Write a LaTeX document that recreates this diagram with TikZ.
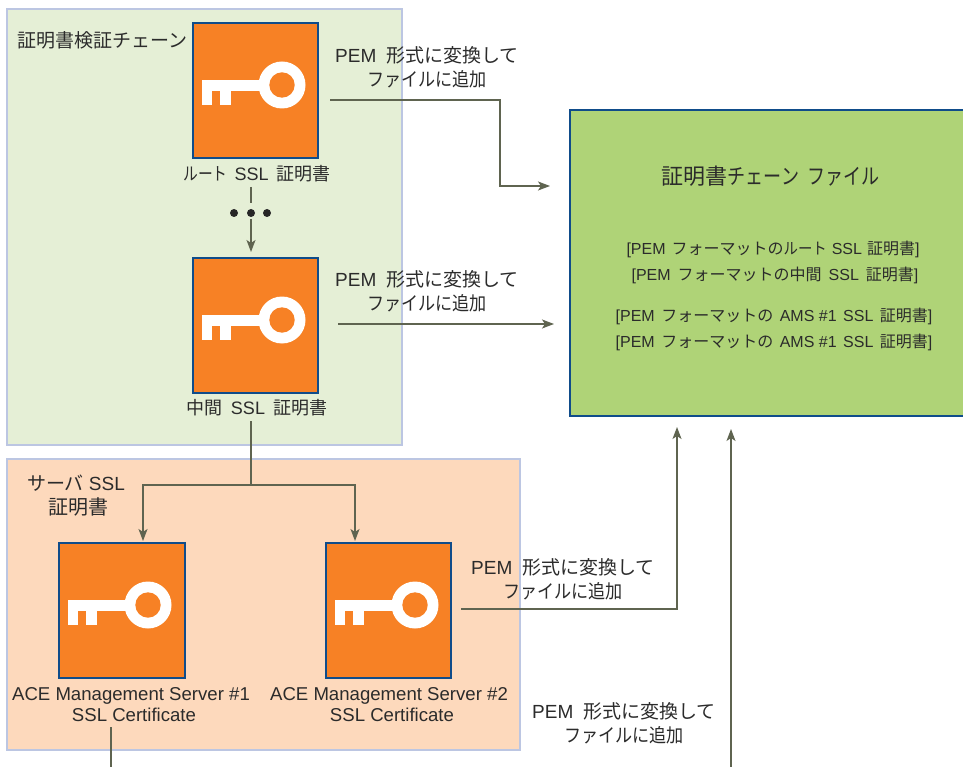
\documentclass[tikz,border=0pt]{standalone}
\usepackage{fontspec}
\setmainfont{Liberation Sans}
\newfontfamily\jp{Noto Sans CJK JP}
\newfontfamily\jpn{Noto Sans CJK JP}[FakeStretch=0.9]
\newfontfamily\jpk{Noto Sans CJK JP}[FakeStretch=0.82]
\newcommand{\J}[1]{{\jp #1}}
\newcommand{\JN}[1]{{\jpn #1}}
\newcommand{\JK}[1]{{\jpk #1}}
\usetikzlibrary{arrows.meta}
\definecolor{panelgreen}{HTML}{E5EFD6}
\definecolor{panelpeach}{HTML}{FDD9BC}
\definecolor{panelborder}{HTML}{BCC6E2}
\definecolor{filegreen}{HTML}{AFD377}
\definecolor{keyorange}{HTML}{F78125}
\definecolor{boxblue}{HTML}{0F4C8A}
\definecolor{conn}{HTML}{5F6450}
\definecolor{txt}{HTML}{2B2B2B}
\tikzset{
  x=1pt,y=-1pt,
  panel/.style={draw=panelborder,line width=1.6pt,outer sep=0pt,inner sep=0pt,anchor=north west},
  keybox/.style={draw=boxblue,fill=keyorange,line width=1.6pt,outer sep=0pt,inner sep=0pt,anchor=north west,minimum width=125pt,minimum height=135pt},
  filebox/.style={draw=boxblue,fill=filegreen,line width=1.6pt,outer sep=0pt,inner sep=0pt,anchor=north west},
  lbl/.style={text=txt,align=center,inner sep=0pt,font=\fontsize{19}{24}\selectfont},
  small/.style={text=txt,align=center,inner sep=0pt,font=\fontsize{18}{21}\selectfont},
  ace/.style={text=txt,align=center,inner sep=0pt,font=\fontsize{18.6}{21}\selectfont},
  filetxt/.style={text=txt,align=center,inner sep=0pt,font=\fontsize{16}{16}\selectfont},
  conn/.style={draw=conn,line width=1.4pt},
  arr/.style={conn,-{Stealth[length=12pt,width=9pt,inset=3pt]}},
}
% #1 = left x, #2 = top y of the key box
\newcommand{\keyicon}[2]{%
  \begin{scope}[shift={(#1,#2)}]
    \fill[white] (9,57) rectangle (70,68);
    \fill[white] (9,57) rectangle (19,82);
    \fill[white] (27,57) rectangle (38,82);
    \fill[white] (89,62) circle (23.5);
    \fill[keyorange] (89,62) circle (12.7);
  \end{scope}}
\newcommand{\conv}{PEM\hspace{10pt}\J{形式に変換して}\\\JN{ファイルに追加}}
\begin{document}
\begin{tikzpicture}
\useasboundingbox (0,0) rectangle (963,767);
\fill[white] (0,0) rectangle (963,767);
% panels
\node[panel,fill=panelgreen,minimum width=395pt,minimum height=436pt] (chain) at (7,9) {};
\node[panel,fill=panelpeach,minimum width=513pt,minimum height=291pt] (server) at (7,459) {};
\node[filebox,minimum width=400pt,minimum height=306pt] (file) at (570,110) {};
% key boxes
\node[keybox] (root) at (193,23) {};
\keyicon{193}{23}
\node[keybox] (mid) at (193,258) {};
\keyicon{193}{258}
\node[keybox,minimum width=126pt] (amsa) at (59,543) {};
\keyicon{59}{543}
\node[keybox] (amsb) at (326,543) {};
\keyicon{326}{543}
% labels
\node[lbl,anchor=west] (chaintitle) at (17,40) {\J{証明書検証チェーン}};
\node[small] (rootlbl) at (257,174) {\JK{ルート}\hspace{7pt}SSL\hspace{8pt}\J{証明書}};
\node[small] (midlbl) at (257,408) {\J{中間}\hspace{8pt}SSL\hspace{8pt}\J{証明書}};
\node[lbl] (servertitle) at (76,496) {\J{サーバ}\hspace{5pt}SSL\\\hspace*{4pt}{\fontsize{20}{24}\selectfont\J{証明書}}};
\node[ace] (amsalbl) at (131,705) {ACE Management Server \#1\\\hspace*{6pt}SSL Certificate};
\node[ace] (amsblbl) at (389,705) {ACE Management Server \#2\\\hspace*{6pt}SSL Certificate};
\node[lbl] (conva) at (427,67) {\conv};
\node[lbl] (convb) at (427,291) {\conv};
\node[lbl] (convc) at (563,579) {\conv};
\node[lbl] (convd) at (624,723) {\conv};
\node[text=txt,inner sep=0pt,font=\fontsize{22}{26}\selectfont] (filetitle) at (770.5,176) {\J{証明書}\JK{チェーン\hspace{8pt}ファイル}};
\node[filetxt] (fa) at (773,249) {[PEM\hspace{6pt}\J{フォーマットの}\JN{ルート}\hspace{5pt}SSL\hspace{5pt}\J{証明書}]};
\node[filetxt] (fb) at (775,275) {[PEM\hspace{7pt}\J{フォーマットの中間}\hspace{7pt}SSL\hspace{7pt}\J{証明書}]};
\node[filetxt] (fc) at (774,316) {[PEM\hspace{6.5pt}\J{フォーマットの}\hspace{6.5pt}AMS \#1\hspace{6.5pt}SSL\hspace{6.5pt}\J{証明書}]};
\node[filetxt] (fd) at (774,342) {[PEM\hspace{6.5pt}\J{フォーマットの}\hspace{6.5pt}AMS \#1\hspace{6.5pt}SSL\hspace{6.5pt}\J{証明書}]};
% coordinates for connector ends
\coordinate (rootout) at (330,100);
\coordinate (rootbend) at (500,100);
\coordinate (rootin) at (550,186);
\coordinate (midout) at (338,324);
\coordinate (midin) at (554,324);
\coordinate (dotstop) at (251,187);
\coordinate (dotsbot) at (251,203);
\coordinate (dotsnext) at (251,219);
\coordinate (midtop) at (251,252);
\coordinate (midbot) at (251,421);
\coordinate (fork) at (251,485);
\coordinate (forkl) at (143,485);
\coordinate (forkr) at (355,485);
\coordinate (amsain) at (143,541);
\coordinate (amsbin) at (355,541);
\coordinate (amsbout) at (461,609);
\coordinate (filein) at (677,427);
\coordinate (fileinb) at (731,429);
\coordinate (fileinbbot) at (731,767);
\coordinate (amsaout) at (111,727);
\coordinate (amsaoutb) at (111,767);
% connectors
\draw[arr] (rootout) -- (rootbend) |- (rootin);
\draw[arr] (midout) -- (midin);
\draw[conn] (dotstop) -- (dotsbot);
\draw[arr] (dotsnext) -- (midtop);
\fill[black!85] (234,213) circle (4) (251,213) circle (4) (267,213) circle (4);
\draw[conn] (midbot) -- (fork);
\draw[arr] (fork) -- (forkl) -- (amsain);
\draw[arr] (fork) -- (forkr) -- (amsbin);
\draw[arr] (amsbout) -| (filein);
\draw[arr] (fileinbbot) -- (fileinb);
\draw[conn] (amsaout) -- (amsaoutb);
\end{tikzpicture}
\end{document}
